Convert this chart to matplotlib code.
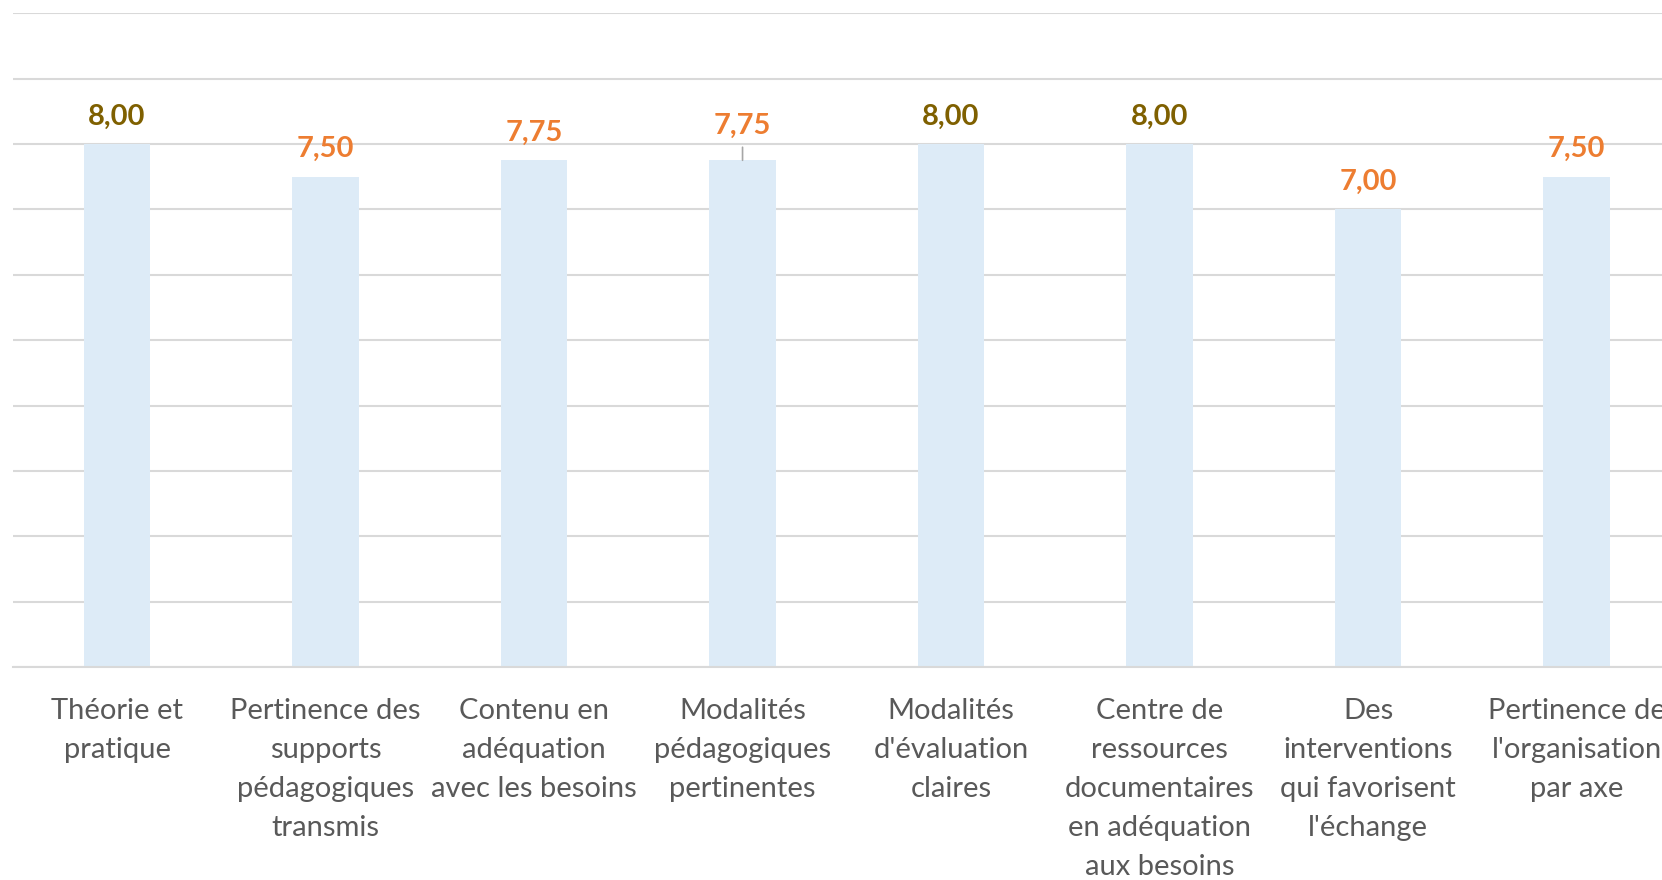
import matplotlib.pyplot as plt
import numpy as np

# notes moyennes par critère
categories = [
    "Théorie et\npratique",
    "Pertinence des\nsupports\npédagogiques\ntransmis",
    "Contenu en\nadéquation\navec les besoins",
    "Modalités\npédagogiques\npertinentes",
    "Modalités\nd'évaluation\nclaires",
    "Centre de\nressources\ndocumentaires\nen adéquation\naux besoins",
    "Des\ninterventions\nqui favorisent\nl'échange",
    "Pertinence de\nl'organisation\npar axe",
]
notes = [8.00, 7.50, 7.75, 7.75, 8.00, 8.00, 7.00, 7.50]

BAR = "#DDEBF7"
GRID = "#D9D9D9"
TXT = "#595959"
TOP = "#7F6000"
AUTRE = "#ED7D31"

plt.rcParams["font.family"] = ["Lato", "DejaVu Sans"]

fig = plt.figure(figsize=(16.62, 8.8), dpi=100)
# l'axe dépasse un peu à droite (dernière colonne coupée)
ax = fig.add_axes([0.0077, 0.242, 1.0036, 0.743])

x = np.arange(len(notes))
ax.bar(x, notes, width=0.317, color=BAR, zorder=2)

ax.set_xlim(-0.5, len(notes) - 0.5)
ax.set_ylim(0, 10)
ax.set_yticks(np.arange(0, 11, 1))
ax.yaxis.grid(True, color=GRID, linewidth=1.5, zorder=0)
ax.tick_params(axis="y", left=False, labelleft=False)
for s in ["top", "left", "right"]:
    ax.spines[s].set_visible(False)
ax.spines["bottom"].set_color(GRID)
ax.spines["bottom"].set_linewidth(1.5)

ax.set_xticks(x)
ax.set_xticklabels(categories, fontsize=21, color=TXT, linespacing=1.61)
ax.tick_params(axis="x", length=0, pad=22.5)

# étiquettes de valeur (la 4e est décalée vers le haut avec un trait de rappel)
for i, v in enumerate(notes):
    col = TOP if v >= 8 else AUTRE
    lift = 5 if i == 3 else 0
    ax.annotate(f"{v:.2f}".replace(".", ","), (i, v), xytext=(0, 14 + lift),
                textcoords="offset points", ha="center", va="baseline",
                fontsize=21, fontweight="bold", color=col, zorder=3)
    if lift:
        ax.annotate("", (i, v), xytext=(i, v + 0.2),
                    arrowprops=dict(arrowstyle="-", color="#A6A6A6", lw=1.2,
                                    shrinkA=0, shrinkB=0))

fig.savefig("out.png", dpi=100)
